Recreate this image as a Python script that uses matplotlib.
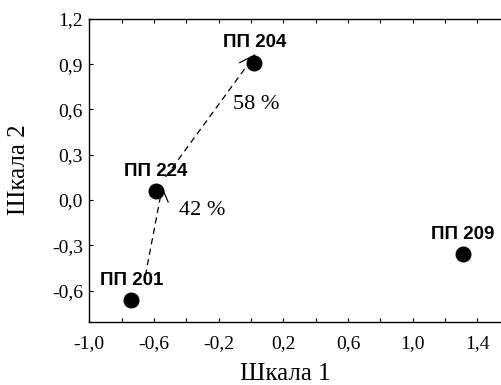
import numpy as np
import matplotlib
matplotlib.use("Agg")
import matplotlib.pyplot as plt
from matplotlib.ticker import FixedLocator, FuncFormatter

# ---- data ----
labels = ["ПП 204", "ПП 224", "ПП 201", "ПП 209"]
scale1 = [0.02, -0.59, -0.74, 1.31]
scale2 = [0.91, 0.06, -0.66, -0.36]
# arrows: (from index, to index, percent label, label x, label y)
arrow_from = [2, 1]
arrow_to = [1, 0]
arrow_text = ["42 %", "58 %"]
arrow_text_x = [-0.30, 0.03]
arrow_text_y = [-0.07, 0.63]
xticks_major = [-1.0, -0.6, -0.2, 0.2, 0.6, 1.0, 1.4]
xticks_minor = [-0.8, -0.4, 0.0, 0.4, 0.8, 1.2]
yticks = [-0.6, -0.3, 0.0, 0.3, 0.6, 0.9, 1.2]
xlabel = "Шкала 1"
ylabel = "Шкала 2"

W, H = 502, 385
fig = plt.figure(figsize=(W / 100, H / 100), dpi=100)
left, right, top, bottom = 89.3, 502, 18.8, 322.3
ax = fig.add_axes([left / W, 1 - bottom / H, (right - left) / W, (bottom - top) / H])
ax.set_xlim(-1.0, -1.0 + (right - left) / 161.75)
ax.set_ylim(-0.81, 1.2)

serif = "Liberation Serif"
sans = "Liberation Sans"

for s in ["left", "top", "bottom"]:
    ax.spines[s].set_linewidth(1.0)
ax.spines["right"].set_visible(False)

fmt = FuncFormatter(lambda v, p: ("%.1f" % v).replace(".", ",").replace("-0,0", "0,0"))
ax.xaxis.set_major_locator(FixedLocator(xticks_major))
ax.xaxis.set_minor_locator(FixedLocator(xticks_minor))
ax.xaxis.set_major_formatter(fmt)
ax.yaxis.set_major_locator(FixedLocator(yticks))
ax.yaxis.set_major_formatter(fmt)
ax.tick_params(axis="x", which="both", direction="in", length=3, width=0.8,
               top=True, bottom=True, pad=9.0)
ax.tick_params(axis="y", which="both", direction="in", length=3, width=0.8,
               left=True, right=False, pad=4.5)
for t in ax.get_xticklabels() + ax.get_yticklabels():
    t.set_fontfamily(serif)
    t.set_fontsize(14)

# points
ax.plot(scale1, scale2, "o", color="black", markersize=10.5, zorder=3)
for lab, x, y in zip(labels, scale1, scale2):
    ax.annotate(lab, (x, y), xytext=(0, 8.0), textcoords="offset points",
                ha="center", va="bottom", fontfamily=sans, fontweight="bold",
                fontsize=13.5, color="black", zorder=4)

# dashed arrows with a single barb (drawn in pixel space, converted to data)
fig.canvas.draw()
T = ax.transData
Ti = ax.transData.inverted()
# pixel offsets (screen, y down) of start/tip from the point centres, barb vector
start_off = [(14, -24), (10, -14)]
tip_off = [(6.5, -3), (0.5, -7.5)]
barb_vec = [(6, 14), (-15, 7.5)]
for i in range(len(arrow_from)):
    p0 = T.transform((scale1[arrow_from[i]], scale2[arrow_from[i]]))
    p1 = T.transform((scale1[arrow_to[i]], scale2[arrow_to[i]]))
    s = p0 + np.array([start_off[i][0], -start_off[i][1]])
    e = p1 + np.array([tip_off[i][0], -tip_off[i][1]])
    b = e + np.array([barb_vec[i][0], -barb_vec[i][1]])
    d = Ti.transform(np.vstack([s, e]))
    ax.plot(d[:, 0], d[:, 1], color="black", lw=0.9, ls=(0, (5, 3.5)), zorder=2)
    bb = Ti.transform(np.vstack([e, b]))
    ax.plot(bb[:, 0], bb[:, 1], color="black", lw=0.9, zorder=2)
    ax.text(arrow_text_x[i], arrow_text_y[i], arrow_text[i], fontfamily=serif,
            fontsize=16, ha="center", va="center", color="black")

fig.text(285 / W, 1 - 379.5 / H, xlabel, fontfamily=serif, fontsize=18,
         ha="center", va="baseline")
fig.text(19 / W, 1 - 170 / H, ylabel, fontfamily=serif, fontsize=18,
         ha="center", va="center", rotation=90)

fig.savefig("out.png", dpi=100)
